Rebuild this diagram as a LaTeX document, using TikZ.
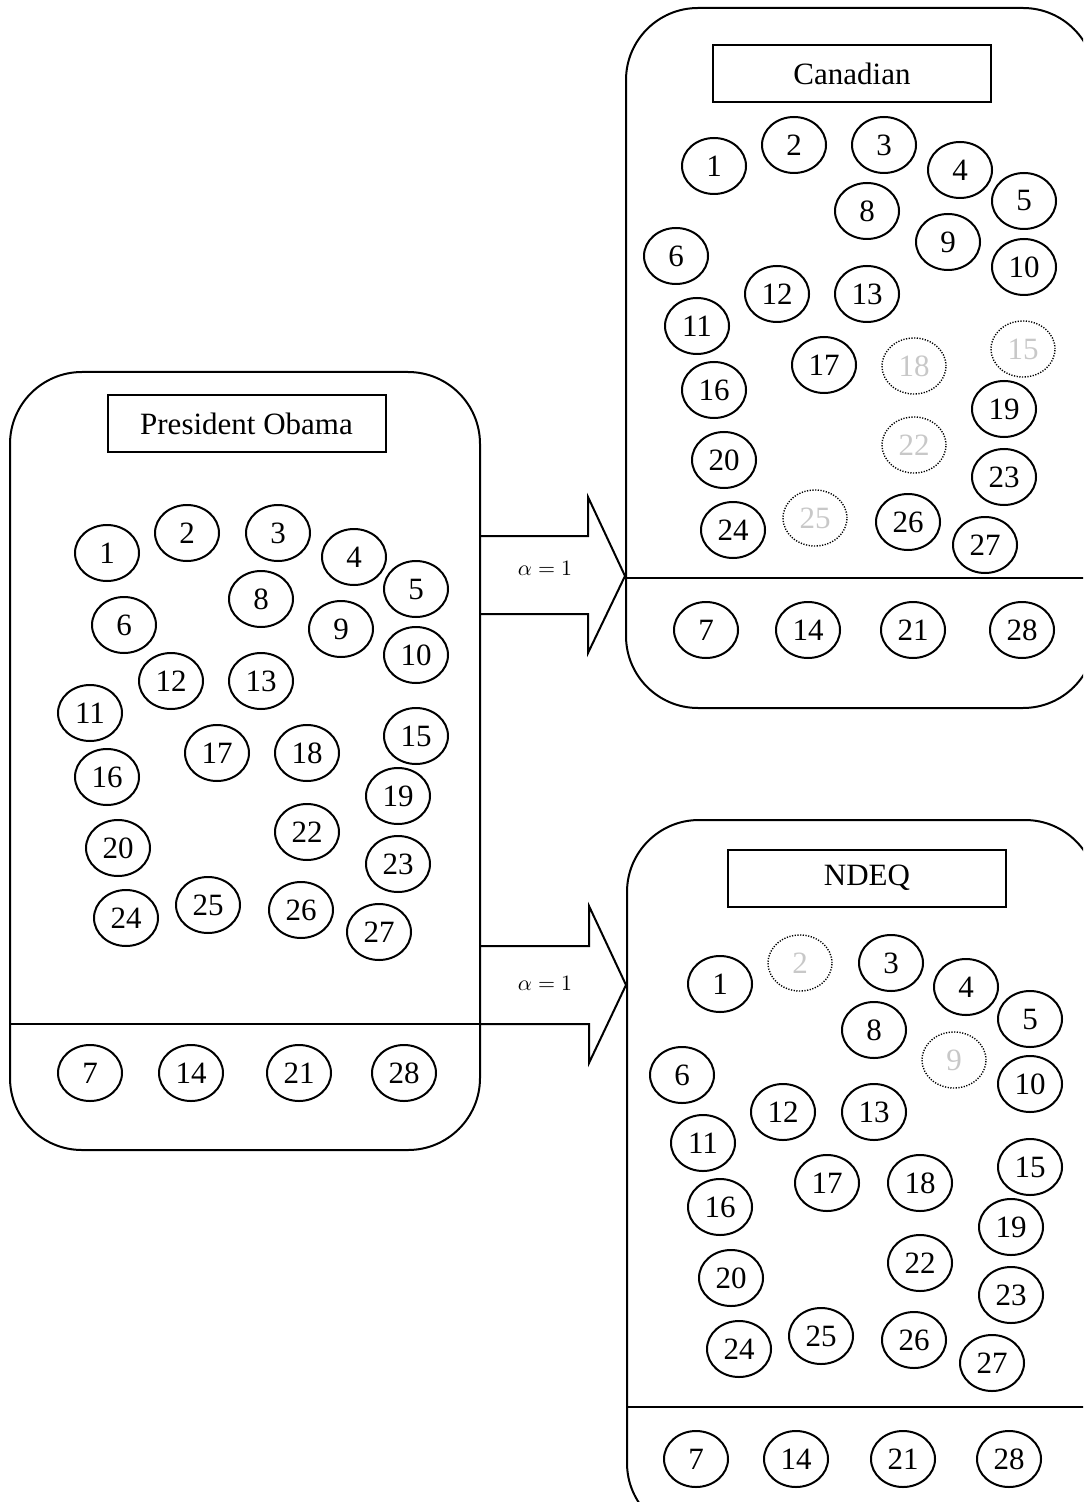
\documentclass[tikz,border=0pt]{standalone}
\usepackage{fontspec}
\setmainfont{Liberation Serif}
\usetikzlibrary{shapes.geometric,calc}
\definecolor{fadednum}{RGB}{200,200,200}

\begin{document}
\begin{tikzpicture}[x=0.5pt,y=-0.5pt,
  panel/.style={draw, line width=1pt, rounded corners=36pt, inner sep=0pt},
  titlebox/.style={draw, line width=1pt, minimum width=139pt, minimum height=28.5pt,
    inner sep=0pt, font=\fontsize{15.5}{18}\selectfont},
  ent/.style={draw, ellipse, line width=1pt, minimum width=32pt, minimum height=28pt,
    inner sep=0pt, font=\fontsize{15.5}{18}\selectfont},
  gone/.style={ent, dash pattern=on 0.6pt off 0.75pt, line width=0.7pt, text=fadednum},
  divider/.style={draw, line width=1pt},
  blockarrow/.style={draw, line width=1pt, line join=miter},
  weight/.style={font=\fontsize{11}{13}\selectfont}
]
\useasboundingbox (0,0) rectangle (1083,1502);
\clip (0,0) rectangle (1083,1502);

% ---------------- panels ----------------
\node[panel, minimum width=235pt, minimum height=389pt] (obama) at (245,761) {};
\node[panel, minimum width=234.5pt, minimum height=350pt] (can) at (860.5,358) {};
\node[panel, minimum width=235pt, minimum height=357.5pt] (ndeq) at (862,1177.5) {};

\draw[divider] (obama.west |- 0,1024) -- (obama.east |- 0,1024);
\draw[divider] (can.west |- 0,578) -- (can.east |- 0,578);
\draw[divider] (ndeq.west |- 0,1407) -- (ndeq.east |- 0,1407);

\node[titlebox] (tobama) at (246.5,423.5) {President Obama};
\node[titlebox] (tcan) at (852,73.5) {Canadian};
\node[titlebox] (tndeq) at (867,878) {NDEQ};

% ---------------- President Obama ----------------
\foreach \n/\x/\y in {1/107/553, 2/187/533, 3/278/533, 4/354/557, 5/416/589,
  8/261/599, 9/341/629, 10/416/655, 6/124/625, 12/171/681, 13/261/681,
  11/90/713, 15/416/736, 17/217/753, 18/307/753, 16/107/777, 19/398/796,
  22/307/832, 20/118/848, 23/398/864, 24/126/918, 25/208/905, 26/301/910,
  27/379/932, 7/90/1073, 14/191/1073, 21/299/1073, 28/404/1073}
  \node[ent] (o\n) at (\x,\y) {\n};

% ---------------- Canadian ----------------
\foreach \n/\x/\y in {1/714/166, 2/794/145, 3/884/145, 4/960/170, 5/1024/201,
  8/867/211, 9/948/242, 10/1024/267, 6/676/256, 12/777/294, 13/867/294,
  11/697/326, 17/824/365, 16/714/390, 19/1004/409, 20/724/460, 23/1004/477,
  24/733/530, 26/908/522, 27/985/545,
  7/706/630, 14/808/630, 21/913/630, 28/1022/630}
  \node[ent] (c\n) at (\x,\y) {\n};
\foreach \n/\x/\y in {18/914/366, 15/1023/349, 22/914/445, 25/815/518}
  \node[gone] (c\n) at (\x,\y) {\n};

% ---------------- NDEQ ----------------
\foreach \n/\x/\y in {1/720/984, 3/891/963, 4/966/987, 5/1030/1019,
  8/874/1030, 10/1030/1084, 6/682/1075, 12/783/1112, 13/874/1112,
  11/703/1143, 15/1030/1167, 17/827/1183, 18/920/1183, 16/720/1207,
  19/1011/1227, 22/920/1263, 20/731/1278, 23/1011/1295, 24/739/1349,
  25/821/1336, 26/914/1340, 27/992/1363,
  7/696/1459, 14/796/1459, 21/903/1459, 28/1009/1459}
  \node[ent] (d\n) at (\x,\y) {\n};
\foreach \n/\x/\y in {2/800/963, 9/954/1060}
  \node[gone] (d\n) at (\x,\y) {\n};

% ---------------- block arrows ----------------
\coordinate (a1s) at (obama.east |- 0,575);
\coordinate (a1t) at (can.west |- 0,576);
\draw[blockarrow] ($(a1s)+(0,-39)$) -- ($(a1t)+(-37,-40)$) -- ($(a1t)+(-37,-79)$)
  -- (a1t) -- ($(a1t)+(-37,77)$) -- ($(a1t)+(-37,38)$) -- ($(a1s)+(0,39)$);
\node[weight] (w1) at (545,568) {$\alpha = 1$};

\coordinate (a2s) at (obama.east |- 0,985);
\coordinate (a2t) at (ndeq.west |- 0,985);
\draw[blockarrow] ($(a2s)+(0,-39)$) -- ($(a2t)+(-37,-39)$) -- ($(a2t)+(-37,-79)$)
  -- (a2t) -- ($(a2t)+(-37,78)$) -- ($(a2t)+(-37,39)$) -- ($(a2s)+(0,39)$);
\node[weight] (w2) at (545,983) {$\alpha = 1$};
\end{tikzpicture}
\end{document}
